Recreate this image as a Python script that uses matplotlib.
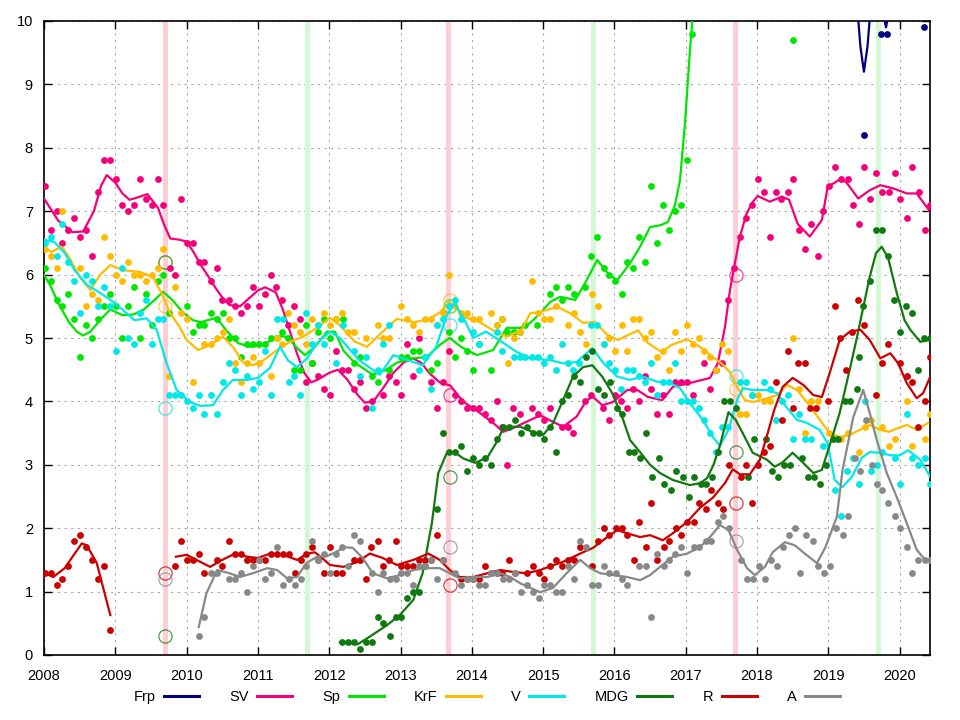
import numpy as np
import matplotlib
matplotlib.use('Agg')
import matplotlib.pyplot as plt
from matplotlib.lines import Line2D

plt.rcParams['font.family'] = ['Liberation Sans', 'DejaVu Sans']

parties = ['Frp', 'SV', 'Sp', 'KrF', 'V', 'MDG', 'R', 'A']
colours = {'Frp': '#000080', 'SV': '#f5007a', 'Sp': '#00e600', 'KrF': '#ffbb00',
           'V': '#00e8e8', 'MDG': '#107a10', 'R': '#cc0000', 'A': '#888888'}

# ---- polls (year, %) ----
frp_t = [2019.50, 2019.74, 2019.82, 2020.34]
frp_v = [8.2, 9.8, 9.8, 9.9]
frp_tt = [2019.30, 2019.40, 2019.45, 2019.50, 2019.55, 2019.60, 2019.70, 2019.77, 2019.81, 2019.86, 2019.95]
frp_tv = [11.5, 10.3, 9.6, 9.2, 9.6, 10.3, 10.5, 10.1, 9.9, 10.2, 10.8]

sv_t = [2008.01, 2008.10, 2008.18, 2008.25, 2008.34, 2008.42, 2008.50, 2008.59, 2008.67, 2008.76, 2008.84, 2008.93,
        2009.01, 2009.09, 2009.18, 2009.26, 2009.35, 2009.43, 2009.51, 2009.60, 2009.67, 2009.77, 2009.84, 2009.92,
        2010.00, 2010.09, 2010.17, 2010.25, 2010.34, 2010.42, 2010.50, 2010.59, 2010.68, 2010.76, 2010.85, 2010.93,
        2011.01, 2011.10, 2011.18, 2011.25, 2011.34, 2011.42, 2011.51, 2011.59, 2011.67, 2011.76, 2011.84, 2011.93,
        2012.01, 2012.10, 2012.18, 2012.26, 2012.35, 2012.43, 2012.52, 2012.60, 2012.76, 2012.84, 2012.93, 2013.01,
        2013.09, 2013.18, 2013.26, 2013.43, 2013.51, 2013.60, 2013.68, 2013.76, 2013.85, 2013.93, 2014.01, 2014.10,
        2014.18, 2014.27, 2014.35, 2014.43, 2014.50, 2014.58, 2014.67, 2014.84, 2014.93, 2015.01, 2015.10, 2015.27,
        2015.35, 2015.42, 2015.59, 2015.67, 2015.84, 2015.93, 2016.01, 2016.09, 2016.18, 2016.26, 2016.35, 2016.43,
        2016.51, 2016.60, 2016.68, 2016.77, 2016.85, 2016.94, 2017.02, 2017.10, 2017.26, 2017.34, 2017.43, 2017.51,
        2017.59, 2017.68, 2017.76, 2017.85, 2017.93, 2018.01, 2018.10, 2018.18, 2018.26, 2018.34, 2018.43, 2018.51,
        2018.59, 2018.67, 2018.76, 2018.85, 2018.93, 2019.01, 2019.10, 2019.18, 2019.27, 2019.35, 2019.43, 2019.50,
        2019.59, 2019.67, 2019.76, 2019.85, 2019.93, 2020.01, 2020.10, 2020.18, 2020.27, 2020.35, 2020.43]
sv_v = [7.4, 6.7, 7.0, 6.5, 6.7, 6.9, 6.6, 6.7, 6.3, 7.3, 7.8, 7.8,
        7.5, 7.1, 7.0, 7.1, 7.5, 7.2, 7.1, 7.5, 7.1, 6.1, 6.0, 7.2,
        6.5, 6.5, 6.2, 6.2, 5.9, 6.1, 5.6, 5.6, 5.5, 5.4, 5.5, 5.8,
        5.5, 5.7, 6.0, 5.8, 5.6, 5.2, 5.5, 5.3, 4.3, 4.6, 4.4, 4.2,
        4.1, 4.8, 4.5, 4.5, 4.2, 4.3, 3.9, 4.0, 4.1, 4.4, 4.3, 4.1,
        4.9, 4.4, 5.0, 4.3, 3.9, 4.3, 4.8, 4.1, 4.0, 3.9, 3.9, 3.9,
        3.8, 3.7, 4.0, 3.6, 3.0, 3.9, 3.8, 3.9, 3.8, 3.7, 3.9, 3.6,
        3.6, 3.5, 4.0, 4.1, 3.9, 3.7, 4.1, 4.0, 3.9, 4.2, 4.0, 4.4,
        4.2, 3.8, 4.1, 3.8, 4.3, 4.3, 4.3, 4.1, 4.6, 4.2, 4.5, 4.6,
        5.6, 6.1, 6.6, 6.9, 7.1, 7.5, 7.3, 6.6, 7.3, 7.2, 7.3, 7.5,
        6.7, 6.4, 6.8, 6.3, 7.0, 7.4, 7.7, 7.5, 7.5, 7.1, 6.8, 7.7,
        7.2, 7.6, 7.3, 7.3, 7.6, 7.2, 6.9, 7.7, 7.3, 6.7, 7.1]
sv_tt = [2008.00, 2008.20, 2008.40, 2008.55, 2008.70, 2008.80, 2008.88, 2009.00, 2009.10, 2009.20, 2009.32, 2009.45,
         2009.60, 2009.68, 2009.77, 2009.90, 2010.00, 2010.10, 2010.20, 2010.30, 2010.40, 2010.50, 2010.60, 2010.75,
         2010.90, 2011.00, 2011.10, 2011.25, 2011.35, 2011.45, 2011.55, 2011.65, 2011.75, 2011.85, 2012.00, 2012.12,
         2012.25, 2012.40, 2012.50, 2012.62, 2012.75, 2012.90, 2013.05, 2013.18, 2013.30, 2013.40, 2013.55, 2013.70,
         2013.80, 2013.90, 2014.10, 2014.30, 2014.44, 2014.58, 2014.77, 2014.96, 2015.10, 2015.28, 2015.47, 2015.60,
         2015.69, 2015.83, 2015.98, 2016.18, 2016.32, 2016.47, 2016.67, 2016.82, 2017.06, 2017.34, 2017.45, 2017.55,
         2017.62, 2017.68, 2017.76, 2017.85, 2017.93, 2018.01, 2018.18, 2018.35, 2018.45, 2018.57, 2018.74, 2018.91,
         2018.99, 2019.16, 2019.25, 2019.42, 2019.58, 2019.73, 2019.91, 2020.10, 2020.24, 2020.43]
sv_tv = [7.20, 6.85, 6.67, 6.68, 7.00, 7.40, 7.57, 7.45, 7.28, 7.18, 7.22, 7.27,
         7.05, 6.80, 6.57, 6.55, 6.52, 6.35, 6.15, 5.98, 5.80, 5.64, 5.52, 5.50,
         5.65, 5.75, 5.80, 5.72, 5.45, 5.10, 4.75, 4.45, 4.30, 4.35, 4.45, 4.50,
         4.35, 4.10, 3.98, 4.00, 4.20, 4.45, 4.62, 4.68, 4.60, 4.45, 4.30, 4.25,
         4.10, 3.98, 3.83, 3.66, 3.52, 3.58, 3.68, 3.78, 3.70, 3.60, 3.76, 4.00,
         4.08, 3.94, 3.99, 4.18, 4.18, 4.07, 4.02, 4.23, 4.29, 4.37, 4.60, 5.17,
         5.75, 6.12, 6.60, 6.95, 7.13, 7.24, 7.15, 7.23, 7.18, 6.80, 6.60, 6.86,
         7.38, 7.50, 7.46, 7.20, 7.33, 7.41, 7.36, 7.28, 7.28, 6.99]

sp_t = [2008.01, 2008.10, 2008.18, 2008.25, 2008.34, 2008.42, 2008.50, 2008.59, 2008.67, 2008.76, 2008.84, 2008.93,
        2009.01, 2009.09, 2009.18, 2009.26, 2009.35, 2009.43, 2009.51, 2009.60, 2009.67, 2009.76, 2010.00, 2010.09,
        2010.17, 2010.25, 2010.34, 2010.42, 2010.51, 2010.59, 2010.68, 2010.76, 2010.85, 2010.93, 2011.01, 2011.10,
        2011.18, 2011.27, 2011.34, 2011.42, 2011.51, 2011.59, 2011.67, 2011.76, 2011.84, 2011.93, 2012.01, 2012.09,
        2012.19, 2012.35, 2012.43, 2012.60, 2012.68, 2012.84, 2013.01, 2013.09, 2013.18, 2013.26, 2013.34, 2013.43,
        2013.51, 2013.68, 2013.76, 2013.85, 2013.93, 2014.01, 2014.10, 2014.27, 2014.35, 2014.43, 2014.50, 2014.59,
        2014.67, 2014.75, 2014.92, 2015.09, 2015.18, 2015.27, 2015.35, 2015.44, 2015.59, 2015.67, 2015.76, 2015.85,
        2015.93, 2016.01, 2016.10, 2016.18, 2016.26, 2016.35, 2016.43, 2016.51, 2016.60, 2016.68, 2016.77, 2016.85,
        2016.94, 2017.02, 2017.09, 2018.50]
sp_v = [6.1, 5.9, 5.6, 5.5, 5.7, 5.3, 4.7, 5.2, 5.0, 5.3, 5.5, 5.7,
        5.5, 5.0, 5.5, 5.8, 5.0, 5.7, 5.2, 5.9, 6.0, 5.4, 5.5, 5.1,
        5.2, 5.2, 5.4, 5.3, 5.4, 5.0, 5.0, 4.7, 4.9, 4.9, 4.9, 4.9,
        5.0, 5.0, 5.1, 5.0, 4.5, 4.5, 5.2, 4.6, 5.1, 5.3, 5.0, 5.3,
        5.3, 4.6, 4.7, 4.4, 4.3, 4.5, 4.7, 4.7, 4.8, 4.8, 4.7, 4.5,
        4.6, 5.1, 4.7, 5.0, 4.8, 4.5, 4.9, 4.5, 5.2, 5.3, 5.1, 5.1,
        5.1, 5.2, 5.2, 5.7, 5.8, 5.6, 5.8, 5.7, 5.8, 6.3, 6.6, 6.1,
        6.0, 5.9, 5.7, 6.2, 6.1, 6.6, 6.2, 7.4, 6.5, 7.1, 6.7, 7.0,
        7.1, 7.8, 9.8, 9.7]
sp_tt = [2008.00, 2008.10, 2008.20, 2008.35, 2008.46, 2008.55, 2008.65, 2008.80, 2008.93, 2009.10, 2009.25, 2009.40,
         2009.55, 2009.67, 2009.80, 2009.95, 2010.09, 2010.20, 2010.42, 2010.55, 2010.72, 2010.89, 2011.08, 2011.27,
         2011.41, 2011.55, 2011.66, 2011.80, 2011.97, 2012.08, 2012.20, 2012.35, 2012.61, 2012.80, 2012.95, 2013.18,
         2013.37, 2013.55, 2013.69, 2013.85, 2014.07, 2014.30, 2014.49, 2014.68, 2014.82, 2014.96, 2015.10, 2015.24,
         2015.45, 2015.59, 2015.76, 2015.90, 2016.04, 2016.22, 2016.36, 2016.50, 2016.65, 2016.75, 2016.85, 2016.92,
         2016.99, 2017.06, 2017.12]
sp_tv = [6.00, 5.80, 5.55, 5.25, 5.10, 5.04, 5.10, 5.30, 5.45, 5.36, 5.37, 5.45,
         5.60, 5.73, 5.60, 5.40, 5.28, 5.25, 5.32, 5.13, 4.92, 4.86, 4.89, 5.03,
         5.02, 4.84, 4.73, 4.86, 5.10, 5.10, 4.80, 4.62, 4.42, 4.50, 4.61, 4.68,
         4.70, 4.89, 5.00, 4.86, 4.73, 4.81, 5.16, 5.16, 5.24, 5.39, 5.57, 5.65,
         5.60, 5.87, 6.23, 6.03, 5.91, 6.18, 6.44, 6.75, 6.78, 6.83, 7.10, 7.49,
         8.39, 9.54, 10.40]

krf_t = [2008.01, 2008.10, 2008.18, 2008.25, 2008.50, 2008.59, 2008.67, 2008.76, 2008.84, 2008.93, 2009.01, 2009.09,
         2009.18, 2009.26, 2009.35, 2009.43, 2009.51, 2009.60, 2009.67, 2009.76, 2009.84, 2009.92, 2010.00, 2010.09,
         2010.25, 2010.34, 2010.42, 2010.51, 2010.59, 2010.68, 2010.76, 2010.85, 2010.93, 2011.01, 2011.18, 2011.27,
         2011.34, 2011.42, 2011.51, 2011.59, 2011.67, 2011.76, 2011.84, 2011.93, 2012.01, 2012.10, 2012.18, 2012.26,
         2012.35, 2012.51, 2012.68, 2012.76, 2012.84, 2013.01, 2013.09, 2013.18, 2013.26, 2013.34, 2013.43, 2013.51,
         2013.60, 2013.68, 2013.76, 2013.85, 2013.93, 2014.01, 2014.10, 2014.27, 2014.35, 2014.43, 2014.51, 2014.59,
         2014.67, 2014.84, 2014.93, 2015.01, 2015.09, 2015.18, 2015.35, 2015.44, 2015.52, 2015.60, 2015.68, 2015.77,
         2015.85, 2015.93, 2016.01, 2016.10, 2016.18, 2016.26, 2016.35, 2016.43, 2016.51, 2016.60, 2016.68, 2016.77,
         2016.85, 2016.94, 2017.02, 2017.10, 2017.18, 2017.26, 2017.34, 2017.43, 2017.51, 2017.59, 2017.76, 2017.85,
         2017.93, 2018.01, 2018.10, 2018.18, 2018.50, 2018.59, 2018.67, 2018.76, 2018.85, 2019.01, 2019.10, 2019.18,
         2019.27, 2019.43, 2019.52, 2019.60, 2019.76, 2019.85, 2019.93, 2020.10, 2020.18, 2020.35, 2020.43]
krf_v = [6.4, 6.3, 6.1, 7.0, 6.1, 5.5, 5.7, 5.6, 6.6, 6.3, 6.0, 5.9,
         6.2, 6.0, 6.0, 5.9, 6.0, 6.1, 6.4, 4.4, 5.8, 5.4, 5.3, 4.3,
         4.9, 4.9, 5.0, 5.1, 5.3, 4.6, 4.3, 4.6, 4.7, 4.6, 4.4, 5.0,
         4.9, 5.4, 5.2, 5.1, 4.9, 5.3, 5.2, 5.4, 5.2, 5.3, 5.4, 5.1,
         5.1, 5.0, 5.2, 5.0, 5.0, 5.5, 5.3, 5.2, 5.1, 5.3, 5.3, 5.2,
         5.4, 6.0, 5.5, 5.4, 5.4, 5.3, 5.3, 5.4, 5.2, 5.3, 4.6, 5.0,
         5.1, 5.9, 5.4, 5.3, 5.3, 5.5, 5.2, 5.4, 5.1, 4.9, 5.7, 5.5,
         4.9, 5.0, 4.8, 5.2, 4.8, 5.3, 5.3, 5.0, 5.1, 4.7, 4.8, 4.5,
         5.1, 4.8, 5.2, 4.9, 5.0, 4.8, 4.7, 4.5, 4.9, 4.8, 3.8, 3.8,
         4.1, 4.1, 4.0, 4.0, 5.0, 4.2, 3.5, 4.0, 4.0, 3.5, 3.4, 3.4,
         3.5, 3.2, 3.6, 3.7, 3.6, 3.3, 3.4, 4.0, 3.3, 3.4, 3.8]
krf_tt = [2008.01, 2008.10, 2008.25, 2008.36, 2008.50, 2008.65, 2008.79, 2008.93, 2009.11, 2009.35, 2009.53, 2009.65,
          2009.77, 2009.90, 2010.00, 2010.16, 2010.33, 2010.51, 2010.65, 2010.79, 2010.93, 2011.08, 2011.27, 2011.45,
          2011.63, 2011.83, 2012.01, 2012.15, 2012.35, 2012.53, 2012.75, 2012.95, 2013.20, 2013.40, 2013.55, 2013.69,
          2013.90, 2014.11, 2014.30, 2014.49, 2014.70, 2014.82, 2014.95, 2015.20, 2015.38, 2015.56, 2015.73, 2015.90,
          2016.05, 2016.20, 2016.33, 2016.47, 2016.66, 2016.80, 2017.02, 2017.20, 2017.38, 2017.50, 2017.62, 2017.72,
          2017.83, 2017.94, 2018.14, 2018.28, 2018.42, 2018.56, 2018.70, 2018.88, 2019.02, 2019.16, 2019.30, 2019.44,
          2019.58, 2019.73, 2019.85, 2019.98, 2020.10, 2020.24, 2020.40]
krf_tv = [6.42, 6.36, 6.44, 6.26, 5.96, 5.76, 6.00, 6.15, 6.07, 6.04, 5.96, 5.70,
          5.39, 5.18, 4.97, 4.81, 4.89, 5.02, 4.86, 4.62, 4.57, 4.65, 4.81, 4.94,
          5.02, 5.16, 5.32, 5.20, 4.95, 4.86, 5.10, 5.30, 5.25, 5.30, 5.40, 5.57,
          5.33, 5.25, 5.12, 5.02, 5.13, 5.39, 5.41, 5.49, 5.39, 5.24, 5.25, 5.05,
          4.97, 5.05, 5.12, 4.92, 4.78, 4.89, 4.98, 4.86, 4.70, 4.60, 4.46, 4.23,
          4.02, 3.99, 4.05, 4.10, 4.26, 4.18, 3.99, 3.71, 3.50, 3.44, 3.47, 3.55,
          3.63, 3.55, 3.52, 3.58, 3.63, 3.55, 3.66]

v_t = [2008.01, 2008.10, 2008.18, 2008.25, 2008.34, 2008.42, 2008.50, 2008.59, 2008.67, 2008.76, 2008.84, 2008.93,
       2009.01, 2009.09, 2009.18, 2009.26, 2009.35, 2009.43, 2009.51, 2009.60, 2009.67, 2009.76, 2009.84, 2009.92,
       2010.00, 2010.09, 2010.17, 2010.25, 2010.34, 2010.42, 2010.51, 2010.59, 2010.68, 2010.76, 2010.85, 2010.93,
       2011.01, 2011.10, 2011.18, 2011.27, 2011.35, 2011.43, 2011.51, 2011.59, 2011.67, 2011.76, 2011.84, 2011.93,
       2012.10, 2012.19, 2012.35, 2012.43, 2012.51, 2012.60, 2012.68, 2012.76, 2012.84, 2013.26, 2013.34, 2013.43,
       2013.51, 2013.60, 2013.68, 2013.76, 2013.85, 2014.01, 2014.10, 2014.35, 2014.43, 2014.59, 2014.67, 2014.75,
       2014.84, 2014.93, 2015.01, 2015.09, 2015.18, 2015.27, 2015.35, 2015.42, 2015.50, 2015.67, 2015.76, 2015.85,
       2015.93, 2016.01, 2016.09, 2016.18, 2016.26, 2016.35, 2016.43, 2016.51, 2016.60, 2016.68, 2016.77, 2016.85,
       2016.94, 2017.02, 2017.10, 2017.18, 2017.26, 2017.34, 2017.42, 2017.51, 2017.59, 2017.76, 2017.85, 2017.93,
       2018.10, 2018.18, 2018.26, 2018.35, 2018.43, 2018.51, 2018.59, 2018.67, 2018.76, 2018.93, 2019.09, 2019.18,
       2019.26, 2019.35, 2019.43, 2019.51, 2019.60, 2019.68, 2019.76, 2019.93, 2020.01, 2020.10, 2020.18, 2020.26,
       2020.35, 2020.43]
v_v = [6.5, 6.6, 6.3, 6.8, 6.2, 5.9, 5.4, 6.0, 5.9, 5.5, 5.8, 5.5,
       4.8, 6.1, 5.0, 4.9, 5.4, 5.6, 4.9, 5.3, 5.3, 4.1, 4.1, 4.1,
       4.0, 3.9, 4.1, 3.8, 4.1, 3.8, 4.3, 4.6, 4.5, 4.1, 4.4, 4.2,
       4.3, 4.8, 4.1, 5.3, 5.3, 4.3, 4.4, 4.1, 5.4, 4.9, 5.2, 4.9,
       4.6, 5.2, 4.8, 4.4, 4.7, 3.9, 4.5, 4.9, 5.2, 4.5, 4.7, 4.2,
       5.2, 5.3, 5.5, 5.6, 5.3, 5.1, 4.9, 5.1, 4.8, 4.7, 4.7, 4.7,
       4.7, 4.7, 4.6, 4.7, 4.5, 4.9, 4.6, 4.5, 4.6, 5.2, 5.2, 4.9,
       4.6, 4.5, 4.2, 4.5, 4.5, 4.4, 4.3, 4.6, 4.1, 4.3, 4.3, 4.6,
       4.0, 4.0, 4.0, 3.9, 3.7, 3.5, 3.2, 3.6, 3.6, 4.3, 4.3, 4.1,
       4.3, 4.2, 3.7, 4.0, 4.1, 3.4, 3.8, 3.4, 3.4, 3.3, 2.6, 2.2,
       2.9, 3.1, 2.7, 4.0, 2.9, 3.0, 3.2, 3.1, 2.7, 3.8, 3.1, 3.0,
       3.1, 2.7]
v_tt = [2008.01, 2008.15, 2008.29, 2008.43, 2008.60, 2008.79, 2008.97, 2009.16, 2009.27, 2009.44, 2009.58, 2009.72,
        2009.86, 2010.05, 2010.19, 2010.37, 2010.51, 2010.65, 2010.85, 2011.00, 2011.17, 2011.31, 2011.42, 2011.55,
        2011.69, 2011.83, 2012.01, 2012.15, 2012.42, 2012.71, 2012.90, 2013.10, 2013.31, 2013.50, 2013.65, 2013.76,
        2013.90, 2014.02, 2014.20, 2014.38, 2014.63, 2014.82, 2015.10, 2015.28, 2015.47, 2015.69, 2015.85, 2016.04,
        2016.22, 2016.40, 2016.60, 2016.78, 2016.92, 2017.06, 2017.24, 2017.38, 2017.48, 2017.60, 2017.72, 2017.80,
        2017.94, 2018.14, 2018.28, 2018.42, 2018.56, 2018.70, 2018.88, 2018.99, 2019.09, 2019.20, 2019.33, 2019.47,
        2019.58, 2019.73, 2019.87, 2020.00, 2020.12, 2020.29, 2020.43]
v_tv = [6.55, 6.51, 6.34, 6.07, 5.84, 5.71, 5.57, 5.39, 5.28, 5.31, 5.13, 4.60,
        4.18, 3.99, 3.93, 3.94, 4.18, 4.34, 4.34, 4.37, 4.53, 4.86, 4.65, 4.54,
        4.68, 4.92, 5.10, 5.00, 4.65, 4.42, 4.73, 4.65, 4.57, 4.86, 5.36, 5.55,
        5.28, 5.00, 5.10, 4.97, 4.78, 4.68, 4.65, 4.60, 4.62, 4.84, 4.60, 4.39,
        4.34, 4.39, 4.31, 4.29, 4.21, 3.97, 3.71, 3.44, 3.30, 3.55, 4.02, 4.21,
        4.18, 4.18, 4.13, 3.90, 3.71, 3.66, 3.55, 3.34, 2.76, 2.65, 2.81, 3.11,
        3.20, 3.19, 3.15, 3.15, 3.23, 3.08, 2.81]

mdg_t = [2012.18, 2012.26, 2012.35, 2012.43, 2012.51, 2012.60, 2012.68, 2012.76, 2012.85, 2012.93, 2013.01, 2013.09,
         2013.18, 2013.26, 2013.34, 2013.51, 2013.60, 2013.68, 2013.76, 2013.85, 2013.93, 2014.01, 2014.10, 2014.18,
         2014.27, 2014.35, 2014.44, 2014.52, 2014.61, 2014.69, 2014.78, 2014.86, 2014.94, 2015.01, 2015.10, 2015.18,
         2015.27, 2015.35, 2015.43, 2015.52, 2015.60, 2015.69, 2015.77, 2015.86, 2015.94, 2016.03, 2016.11, 2016.20,
         2016.28, 2016.36, 2016.45, 2016.53, 2016.62, 2016.70, 2016.79, 2016.87, 2016.96, 2017.04, 2017.12, 2017.21,
         2017.29, 2017.37, 2017.46, 2017.54, 2017.62, 2017.71, 2017.88, 2017.96, 2018.13, 2018.21, 2018.30, 2018.38,
         2018.46, 2018.63, 2018.72, 2018.80, 2018.89, 2018.97, 2019.06, 2019.14, 2019.23, 2019.31, 2019.40, 2019.43,
         2019.49, 2019.58, 2019.67, 2019.75, 2019.84, 2019.92, 2020.00, 2020.09, 2020.17, 2020.26, 2020.34, 2020.43]
mdg_v = [0.2, 0.2, 0.2, 0.1, 0.2, 0.2, 0.6, 0.5, 0.3, 0.6, 0.6, 0.9,
         1.0, 1.0, 1.4, 2.3, 3.5, 3.2, 3.2, 3.3, 2.9, 3.1, 3.0, 3.1,
         3.0, 3.4, 3.6, 3.6, 3.7, 3.5, 3.6, 3.5, 3.5, 3.4, 3.6, 3.2,
         4.0, 4.1, 4.4, 4.3, 4.7, 4.8, 4.2, 4.1, 4.3, 3.9, 3.8, 3.2,
         3.2, 3.1, 3.5, 2.8, 3.1, 2.7, 2.6, 2.9, 2.8, 2.5, 2.8, 2.7,
         2.7, 2.8, 3.2, 4.0, 4.0, 3.9, 2.8, 3.4, 3.4, 2.9, 2.8, 3.0,
         3.0, 3.1, 2.8, 2.8, 2.7, 3.0, 3.4, 3.4, 4.0, 4.0, 4.2, 4.7,
         5.5, 5.9, 6.7, 6.7, 6.3, 5.6, 5.1, 5.5, 5.4, 4.5, 5.0, 5.0]
mdg_tt = [2012.15, 2012.40, 2012.57, 2012.81, 2012.99, 2013.18, 2013.31, 2013.44, 2013.53, 2013.65, 2013.76, 2013.88,
          2014.05, 2014.22, 2014.35, 2014.45, 2014.55, 2014.68, 2014.85, 2015.00, 2015.14, 2015.28, 2015.42, 2015.56,
          2015.69, 2015.83, 2015.97, 2016.11, 2016.22, 2016.36, 2016.50, 2016.64, 2016.82, 2017.06, 2017.20, 2017.30,
          2017.39, 2017.48, 2017.60, 2017.70, 2017.80, 2017.94, 2018.14, 2018.25, 2018.36, 2018.50, 2018.64, 2018.79,
          2018.91, 2019.02, 2019.16, 2019.30, 2019.40, 2019.58, 2019.67, 2019.75, 2019.84, 2019.96, 2020.07, 2020.15,
          2020.29, 2020.43]
mdg_tv = [0.20, 0.17, 0.29, 0.47, 0.63, 0.87, 1.29, 2.08, 2.87, 3.19, 3.20, 3.10,
          3.03, 3.12, 3.36, 3.60, 3.60, 3.60, 3.52, 3.47, 3.66, 4.02, 4.39, 4.54,
          4.57, 4.39, 4.13, 3.75, 3.39, 3.20, 3.00, 2.87, 2.76, 2.68, 2.71, 2.79,
          3.00, 3.30, 3.83, 3.71, 3.50, 3.19, 3.08, 2.97, 3.04, 3.19, 3.04, 2.87,
          2.92, 3.31, 3.82, 4.50, 5.00, 5.96, 6.34, 6.44, 6.26, 5.71, 5.28, 5.13,
          4.94, 4.97]

r_t = [2008.01, 2008.10, 2008.18, 2008.25, 2008.34, 2008.42, 2008.50, 2008.59, 2008.67, 2008.76, 2008.84, 2008.93,
       2009.84, 2009.92, 2010.00, 2010.09, 2010.17, 2010.25, 2010.42, 2010.50, 2010.59, 2010.68, 2010.76, 2010.85,
       2010.93, 2011.01, 2011.10, 2011.18, 2011.27, 2011.35, 2011.43, 2011.52, 2011.60, 2011.67, 2011.76, 2011.84,
       2011.93, 2012.01, 2012.10, 2012.18, 2012.35, 2012.43, 2012.51, 2012.58, 2012.68, 2012.76, 2012.84, 2012.93,
       2013.01, 2013.09, 2013.18, 2013.26, 2013.34, 2013.43, 2013.51, 2013.60, 2013.85, 2013.93, 2014.01, 2014.10,
       2014.18, 2014.27, 2014.35, 2014.43, 2014.52, 2014.61, 2014.78, 2014.86, 2014.94, 2015.01, 2015.10, 2015.18,
       2015.27, 2015.35, 2015.43, 2015.52, 2015.68, 2015.77, 2015.85, 2015.93, 2016.02, 2016.10, 2016.18, 2016.27,
       2016.35, 2016.44, 2016.52, 2016.60, 2016.69, 2016.77, 2016.86, 2016.94, 2017.02, 2017.11, 2017.19, 2017.28,
       2017.36, 2017.45, 2017.53, 2017.61, 2017.77, 2017.85, 2017.93, 2018.02, 2018.10, 2018.18, 2018.27, 2018.35,
       2018.44, 2018.51, 2018.58, 2018.67, 2018.75, 2018.83, 2019.00, 2019.09, 2019.16, 2019.25, 2019.33, 2019.42,
       2019.50, 2019.67, 2019.75, 2019.84, 2020.01, 2020.10, 2020.18, 2020.26, 2020.35, 2020.43]
r_v = [1.3, 1.3, 1.1, 1.2, 1.4, 1.8, 1.9, 1.7, 1.5, 1.2, 1.4, 0.4,
       1.4, 1.8, 1.5, 1.5, 1.6, 1.3, 1.5, 1.4, 1.8, 1.6, 1.6, 1.5,
       1.5, 1.5, 1.5, 1.6, 1.6, 1.6, 1.6, 1.3, 1.5, 1.6, 1.7, 1.5,
       1.3, 1.7, 1.3, 1.3, 1.5, 1.5, 1.2, 1.7, 1.8, 1.4, 1.5, 1.8,
       1.4, 1.4, 1.4, 1.5, 1.5, 1.5, 1.9, 1.5, 1.2, 1.2, 1.2, 1.2,
       1.4, 1.3, 1.3, 1.3, 1.5, 1.3, 1.3, 1.4, 1.3, 1.2, 1.4, 1.5,
       1.4, 1.5, 1.5, 1.7, 1.4, 1.8, 2.0, 1.9, 2.0, 2.0, 1.9, 1.5,
       2.1, 1.7, 2.4, 1.5, 1.7, 1.8, 2.0, 1.9, 2.1, 2.1, 2.4, 2.3,
       2.6, 2.4, 2.3, 3.0, 2.8, 3.0, 2.4, 3.0, 3.2, 3.3, 4.3, 3.7,
       4.8, 3.9, 4.6, 4.6, 3.9, 3.9, 4.0, 5.5, 5.0, 4.5, 5.1, 5.6,
       5.2, 4.1, 4.6, 4.9, 4.6, 4.4, 4.3, 3.6, 4.0, 4.7]
r_tt = [2008.00, 2008.13, 2008.29, 2008.40, 2008.53, 2008.60, 2008.74, 2008.83, 2008.93, np.nan,
        2009.85, 2010.00, 2010.19, 2010.33, 2010.50, 2010.68, 2010.85, 2011.00, 2011.17, 2011.35, 2011.55, 2011.69,
        2011.80, 2011.90, 2012.01, 2012.20, 2012.40, 2012.57, 2012.75, 2012.95, 2013.18, 2013.39, 2013.55, 2013.69,
        2013.83, 2014.02, 2014.22, 2014.40, 2014.58, 2014.77, 2014.96, 2015.10, 2015.28, 2015.52, 2015.70, 2015.90,
        2016.04, 2016.18, 2016.36, 2016.50, 2016.68, 2016.82, 2017.02, 2017.20, 2017.38, 2017.55, 2017.66, 2017.76,
        2017.90, 2018.04, 2018.15, 2018.24, 2018.36, 2018.50, 2018.65, 2018.79, 2018.91, 2019.02, 2019.16, 2019.30,
        2019.45, 2019.58, 2019.73, 2019.87, 2019.98, 2020.10, 2020.24, 2020.33, 2020.43]
r_tv = [1.30, 1.23, 1.37, 1.55, 1.76, 1.73, 1.45, 1.06, 0.63, np.nan,
        1.55, 1.58, 1.47, 1.39, 1.50, 1.60, 1.55, 1.53, 1.60, 1.58, 1.50, 1.60,
        1.62, 1.53, 1.42, 1.39, 1.47, 1.60, 1.53, 1.42, 1.50, 1.60, 1.50, 1.34,
        1.23, 1.23, 1.29, 1.34, 1.31, 1.29, 1.34, 1.40, 1.47, 1.60, 1.69, 1.86,
        1.97, 1.92, 1.86, 1.89, 1.81, 1.92, 2.10, 2.32, 2.48, 2.71, 2.93, 2.85,
        2.85, 3.08, 3.50, 3.86, 4.23, 4.37, 4.26, 4.10, 4.07, 4.45, 4.97, 5.10,
        5.13, 4.97, 4.68, 4.76, 4.60, 4.29, 4.05, 4.13, 4.39]

a_t = [2010.17, 2010.25, 2010.34, 2010.42, 2010.59, 2010.68, 2010.76, 2010.85, 2010.93, 2011.01, 2011.10, 2011.18,
       2011.27, 2011.35, 2011.43, 2011.52, 2011.60, 2011.67, 2011.76, 2011.84, 2011.93, 2012.01, 2012.10, 2012.18,
       2012.26, 2012.35, 2012.43, 2012.60, 2012.68, 2012.76, 2012.85, 2012.93, 2013.01, 2013.09, 2013.18, 2013.26,
       2013.34, 2013.43, 2013.51, 2013.60, 2013.76, 2013.85, 2013.93, 2014.01, 2014.10, 2014.18, 2014.27, 2014.35,
       2014.44, 2014.52, 2014.61, 2014.69, 2014.78, 2014.86, 2014.94, 2015.01, 2015.10, 2015.18, 2015.27, 2015.35,
       2015.43, 2015.52, 2015.60, 2015.68, 2015.77, 2015.85, 2015.93, 2016.02, 2016.10, 2016.18, 2016.35, 2016.44,
       2016.52, 2016.60, 2016.69, 2016.77, 2016.85, 2016.94, 2017.02, 2017.11, 2017.19, 2017.28, 2017.36, 2017.45,
       2017.53, 2017.61, 2017.78, 2017.86, 2017.94, 2018.03, 2018.11, 2018.20, 2018.28, 2018.37, 2018.45, 2018.53,
       2018.61, 2018.69, 2018.78, 2018.86, 2018.94, 2019.03, 2019.11, 2019.20, 2019.28, 2019.37, 2019.45, 2019.53,
       2019.61, 2019.68, 2019.76, 2019.84, 2019.93, 2020.01, 2020.10, 2020.18, 2020.26, 2020.35, 2020.43]
a_v = [0.3, 0.6, 1.3, 1.3, 1.2, 1.2, 1.3, 1.0, 1.4, 1.5, 1.2, 1.3,
       1.7, 1.1, 1.2, 1.1, 1.2, 1.4, 1.8, 1.5, 1.6, 1.3, 1.6, 1.7,
       1.4, 1.9, 1.8, 1.3, 1.0, 1.3, 1.2, 1.2, 1.3, 1.3, 1.1, 1.4,
       1.4, 1.5, 1.2, 1.5, 1.3, 1.1, 1.2, 1.2, 1.1, 1.1, 1.3, 1.3,
       1.2, 1.2, 1.3, 1.0, 1.1, 1.0, 0.9, 1.1, 1.1, 1.0, 1.0, 1.4,
       1.2, 1.8, 1.7, 1.1, 1.1, 1.4, 1.3, 1.3, 1.2, 1.1, 1.4, 1.4,
       0.6, 1.6, 1.4, 1.5, 1.6, 1.7, 1.3, 1.7, 1.7, 1.8, 1.8, 2.1,
       2.2, 2.0, 1.5, 1.2, 1.2, 1.4, 1.2, 1.5, 1.4, 1.7, 1.9, 2.0,
       1.3, 1.9, 1.8, 1.4, 1.3, 1.4, 2.0, 1.9, 2.2, 3.1, 2.9, 3.7,
       3.0, 2.7, 2.6, 2.4, 2.2, 2.0, 1.7, 1.3, 1.5, 1.5, 1.5]
a_tt = [2010.17, 2010.28, 2010.43, 2010.60, 2010.75, 2010.93, 2011.13, 2011.27, 2011.41, 2011.55, 2011.68, 2011.83,
        2011.97, 2012.05, 2012.22, 2012.33, 2012.47, 2012.61, 2012.81, 2012.99, 2013.18, 2013.37, 2013.55, 2013.69,
        2013.83, 2014.02, 2014.22, 2014.40, 2014.54, 2014.68, 2014.82, 2014.96, 2015.14, 2015.33, 2015.52, 2015.66,
        2015.80, 2015.99, 2016.18, 2016.36, 2016.50, 2016.64, 2016.82, 2017.02, 2017.20, 2017.34, 2017.48, 2017.60,
        2017.72, 2017.86, 2017.97, 2018.11, 2018.22, 2018.39, 2018.53, 2018.67, 2018.84, 2018.96, 2019.12, 2019.20,
        2019.35, 2019.49, 2019.58, 2019.68, 2019.82, 2019.96, 2020.10, 2020.24, 2020.38, 2020.43]
a_tv = [0.44, 0.98, 1.34, 1.29, 1.23, 1.29, 1.37, 1.34, 1.21, 1.23, 1.45, 1.55,
        1.56, 1.60, 1.70, 1.69, 1.53, 1.29, 1.21, 1.26, 1.34, 1.37, 1.37, 1.29,
        1.21, 1.23, 1.23, 1.29, 1.23, 1.13, 1.06, 0.99, 1.06, 1.29, 1.50, 1.37,
        1.29, 1.26, 1.23, 1.18, 1.26, 1.39, 1.55, 1.60, 1.70, 1.86, 2.05, 1.97,
        1.66, 1.37, 1.26, 1.39, 1.62, 1.78, 1.73, 1.60, 1.45, 1.70, 2.18, 2.92,
        3.75, 4.18, 3.82, 3.39, 2.87, 2.49, 2.08, 1.66, 1.47, 1.47]

# election results (hollow circles)
elec_years = [2009.70, 2013.69, 2017.70]
elec_results = {
    'SV': [6.2, 4.1, 6.0], 'Sp': [6.2, 5.5, np.nan], 'KrF': [5.5, 5.6, 4.2], 'V': [3.9, 5.2, 4.4],
    'MDG': [0.3, 2.8, 3.2], 'R': [1.3, 1.1, 2.4], 'A': [1.2, 1.7, 1.8],
}
# election markers: parliamentary (pink) and local (green)
parl_years = [2009.70, 2013.68, 2017.70]
local_years = [2011.70, 2015.71, 2019.70]

polls = {'Frp': (frp_t, frp_v, frp_tt, frp_tv), 'SV': (sv_t, sv_v, sv_tt, sv_tv),
         'Sp': (sp_t, sp_v, sp_tt, sp_tv), 'KrF': (krf_t, krf_v, krf_tt, krf_tv),
         'V': (v_t, v_v, v_tt, v_tv), 'MDG': (mdg_t, mdg_v, mdg_tt, mdg_tv),
         'R': (r_t, r_v, r_tt, r_tv), 'A': (a_t, a_v, a_tt, a_tv)}

fig = plt.figure(figsize=(9.6, 7.2), dpi=100)
ax = fig.add_axes([44/960, 65/720, 886/960, 634/720])

for yr in parl_years:
    ax.axvspan(yr - 0.035, yr + 0.035, color='#ffcdd2', lw=0, zorder=1)
for yr in local_years:
    ax.axvspan(yr - 0.035, yr + 0.035, color='#d4f7d4', lw=0, zorder=1)

handles = []
for i, p in enumerate(parties):
    t, v, tt, tv = polls[p]
    c = colours[p]
    ax.scatter(t, v, s=24, color=c, lw=0, zorder=3 + i * 0.1)
    ax.plot(tt, tv, color=c, lw=1.6, zorder=3.05 + i * 0.1, solid_joinstyle='round')
    if p in elec_results:
        ax.plot(elec_years, elec_results[p], ls='none', marker='o', ms=9.5, mfc='none',
                mec=c, mew=0.9, alpha=0.75, zorder=2)
    handles.append(Line2D([], [], color=c, lw=2.2))

ax.set_xlim(2008, 2008 + 886 / 71.3)
ax.set_ylim(0, 10)
ax.set_xticks(range(2008, 2021))
ax.set_yticks(range(0, 11))
ax.grid(True, color='#a8a8a8', ls=(0, (2, 4)), lw=0.8)
ax.set_axisbelow(True)
ax.tick_params(direction='in', length=6, width=1, top=True, right=True, labelsize=10.5, pad=10, colors='black')
ax.tick_params(axis='y', pad=8)
for s in ax.spines.values():
    s.set_linewidth(1.2)

fig.legend(handles, parties, loc='center', bbox_to_anchor=(0.507, 0.032), ncol=8, frameon=False,
           markerfirst=False, handlelength=2.4, handletextpad=0.6, columnspacing=2.05, fontsize=10.5)

fig.savefig('out.png', dpi=100)
